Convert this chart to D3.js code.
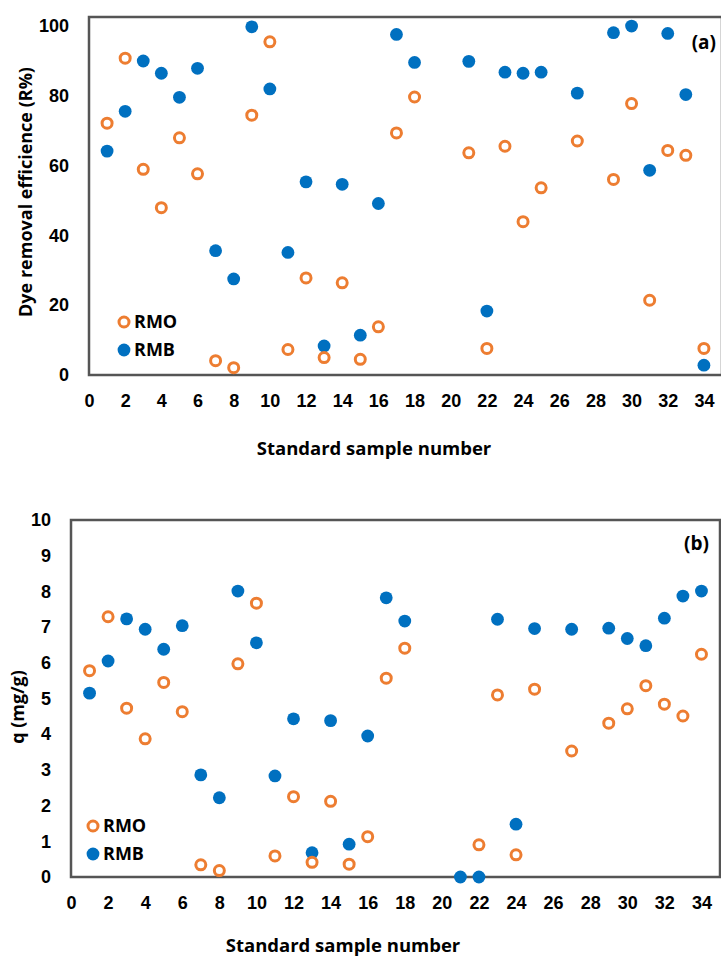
<!DOCTYPE html>
<html>
<head>
<meta charset="utf-8" />
<script src="https://d3js.org/d3.v7.min.js"></script>
<style>
  body { margin: 0; background: #fff; }
  svg { font-family: "Open Sans", sans-serif; font-weight: bold; }
  .tick text { font-size: 18px; font-weight: bold; fill: #000; }
</style>
</head>
<body>
<svg width="721" height="960"></svg>
<script>
// sample numbers that have a measurement
var samples = [1, 2, 3, 4, 5, 6, 7, 8, 9, 10, 11, 12, 13, 14, 15, 16, 17, 18, 21, 22, 23, 24, 25, 27, 29, 30, 31, 32, 33, 34];

// (a) dye removal efficiency, R%
var rmoRemoval = [72.1, 90.7, 58.9, 47.9, 67.9, 57.6, 4.1, 2.1, 74.4, 95.4, 7.3, 27.8, 5.0, 26.4, 4.5, 13.8, 69.3, 79.6, 63.6, 7.6, 65.5, 43.9, 53.6, 67.0, 56.0, 77.7, 21.4, 64.3, 62.9, 7.6];
var rmbRemoval = [64.1, 75.5, 89.9, 86.4, 79.5, 87.8, 35.6, 27.5, 99.7, 81.9, 35.1, 55.3, 8.3, 54.6, 11.4, 49.1, 97.5, 89.5, 89.8, 18.3, 86.7, 86.4, 86.7, 80.7, 98.0, 99.9, 58.6, 97.8, 80.3, 2.8];

// (b) adsorption capacity q, mg/g
var rmoCapacity = [5.78, 7.29, 4.73, 3.87, 5.45, 4.63, 0.34, 0.18, 5.97, 7.67, 0.59, 2.25, 0.41, 2.12, 0.36, 1.13, 5.57, 6.41, null, 0.90, 5.10, 0.62, 5.26, 3.53, 4.31, 4.71, 5.36, 4.84, 4.51, 6.24];
var rmbCapacity = [5.15, 6.05, 7.23, 6.94, 6.38, 7.04, 2.86, 2.22, 8.01, 6.56, 2.83, 4.43, 0.68, 4.38, 0.92, 3.95, 7.82, 7.17, 0, 0, 7.22, 1.48, 6.96, 6.94, 6.97, 6.68, 6.48, 7.25, 7.87, 8.01];

var xTicks = d3.range(0, 35, 2);
var removalTicks = [0, 20, 40, 60, 80, 100];
var capacityTicks = d3.range(0, 11, 1);

var seriesNames = ['RMO', 'RMB'];
var orange = '#ED7D31';
var blue = '#0070C0';

var svg = d3.select('svg');

function drawPanel(p) {
  var x = d3.scaleLinear().domain([0, 35]).range([p.left, p.right]);
  var y = d3.scaleLinear().domain([0, p.yMax]).range([p.bottom, p.top]);

  var g = svg.append('g');

  g.append('g')
    .attr('transform', 'translate(0,' + p.bottom + ')')
    .call(d3.axisBottom(x).tickValues(xTicks).tickSize(0).tickPadding(19))
    .call(function (a) { a.select('.domain').remove(); });

  g.append('g')
    .attr('transform', 'translate(' + p.left + ',0)')
    .call(d3.axisLeft(y).tickValues(p.yTicks).tickSize(0).tickPadding(p.yPad))
    .call(function (a) { a.select('.domain').remove(); });

  g.append('rect')
    .attr('x', p.left).attr('y', p.top)
    .attr('width', p.right - p.left).attr('height', p.bottom - p.top)
    .attr('fill', 'none').attr('stroke', '#555').attr('stroke-width', 2.5);

  var blueData = samples.map(function (s, i) { return [s, p.rmb[i]]; }).filter(function (d) { return d[1] != null; });
  var orangeData = samples.map(function (s, i) { return [s, p.rmo[i]]; }).filter(function (d) { return d[1] != null; });

  g.selectAll('.rmb').data(blueData).enter().append('circle')
    .attr('class', 'rmb')
    .attr('cx', function (d) { return x(d[0]); })
    .attr('cy', function (d) { return y(d[1]); })
    .attr('r', 6.4)
    .attr('fill', blue);

  g.selectAll('.rmo').data(orangeData).enter().append('circle')
    .attr('class', 'rmo')
    .attr('cx', function (d) { return x(d[0]); })
    .attr('cy', function (d) { return y(d[1]); })
    .attr('r', 5)
    .attr('fill', '#fff')
    .attr('stroke', orange)
    .attr('stroke-width', 3);

  // legend
  var lg = g.append('g').attr('transform', 'translate(' + p.legendX + ',' + p.legendY + ')');
  seriesNames.forEach(function (name, i) {
    var row = lg.append('g').attr('transform', 'translate(0,' + i * 28 + ')');
    if (name === 'RMO') {
      row.append('circle').attr('r', 5).attr('fill', '#fff').attr('stroke', orange).attr('stroke-width', 3);
    } else {
      row.append('circle').attr('r', 6.4).attr('fill', blue);
    }
    row.append('text').attr('x', 10).attr('dy', '0.36em')
      .style('font-size', '18px').text(name);
  });

  g.append('text')
    .attr('x', p.tagX).attr('y', p.tagY).attr('dy', '0.36em')
    .attr('text-anchor', 'end')
    .style('font-size', '19px')
    .text(p.tag);

  g.append('text')
    .attr('x', p.xTitleX).attr('y', p.xTitleY).attr('dy', '0.36em')
    .attr('text-anchor', 'middle')
    .style('font-size', '18.5px')
    .text('Standard sample number');

  g.append('text')
    .attr('transform', 'translate(' + p.yTitleX + ',' + p.yTitleY + ') rotate(-90)')
    .attr('dy', '0.36em')
    .attr('text-anchor', 'middle')
    .style('font-size', '18px')
    .text(p.yTitle);
}

drawPanel({
  left: 89, right: 722, top: 17, bottom: 375, yMax: 102.5, yTicks: removalTicks, yPad: 20,
  rmo: rmoRemoval, rmb: rmbRemoval,
  legendX: 124, legendY: 322, tag: '(a)', tagX: 716, tagY: 42,
  xTitleX: 374, xTitleY: 448, yTitleX: 26, yTitleY: 192,
  yTitle: 'Dye removal efficience (R%)'
});

drawPanel({
  left: 71, right: 720, top: 520, bottom: 877, yMax: 10, yTicks: capacityTicks, yPad: 20,
  rmo: rmoCapacity, rmb: rmbCapacity,
  legendX: 93, legendY: 826, tag: '(b)', tagX: 709, tagY: 543,
  xTitleX: 343, xTitleY: 945, yTitleX: 18, yTitleY: 707,
  yTitle: 'q (mg/g)'
});
</script>
</body>
</html>
